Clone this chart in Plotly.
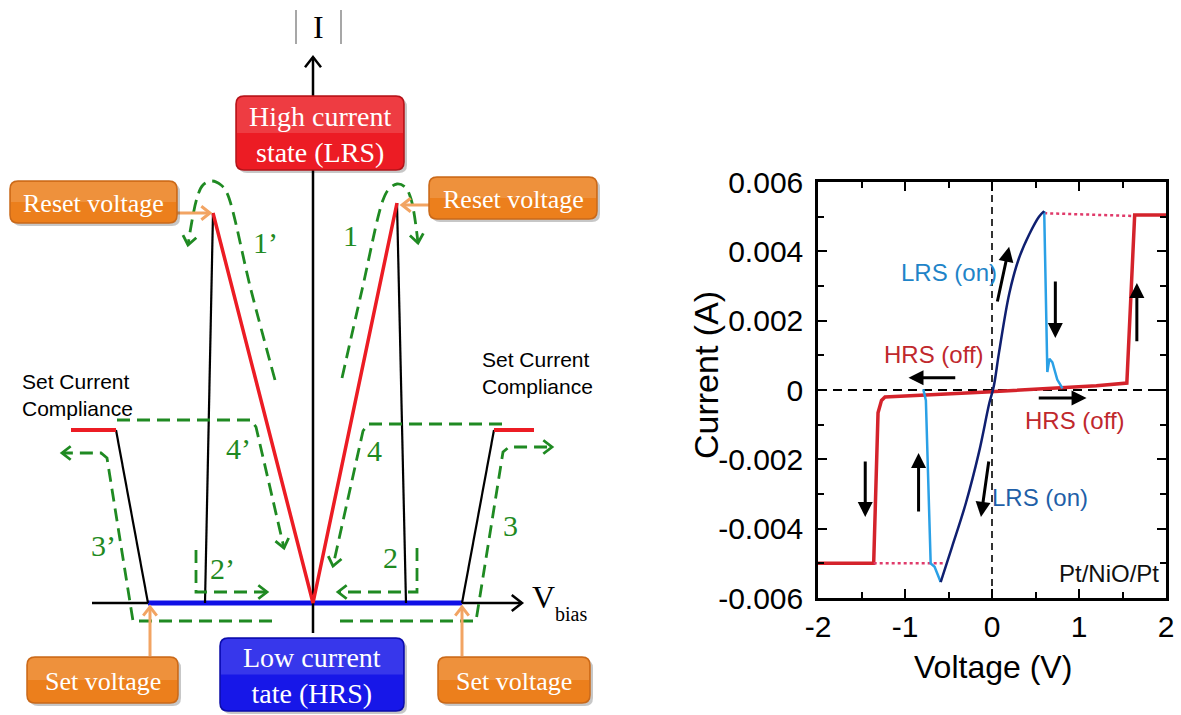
import math
import plotly.graph_objects as go

W, H = 1181, 715

# ================= Right panel: measured I-V data (Pt/NiO/Pt) =================
hrs_pos_v = [-0.02, 0.3, 0.8, 1.2, 1.55, 1.64, 2.0]
hrs_pos_i = [-0.00005, 0.0, 0.00006, 0.00012, 0.0002, 0.00505, 0.00505]
hrs_neg_v = [0.0, -0.5, -1.0, -1.23, -1.27, -1.31, -1.36, -2.0]
hrs_neg_i = [-0.00005, -0.00012, -0.00017, -0.0002, -0.0003, -0.00066, -0.005, -0.005]
comp_top_v = [0.60, 1.62]
comp_top_i = [0.0051, 0.00502]
comp_bot_v = [-1.36, -0.56]
comp_bot_i = [-0.005, -0.005]
reset_pos_v = [0.60, 0.62, 0.636, 0.66, 0.694, 0.75, 0.81]
reset_pos_i = [0.00516, 0.0030, 0.00052, 0.0009, 0.0008, 0.0003, 0.00005]
reset_neg_v = [-0.79, -0.76, -0.705, -0.66, -0.59]
reset_neg_i = [0.00002, -0.0003, -0.0050, -0.0051, -0.00554]
lrs_v = [-0.59, -0.46, -0.30, -0.15, -0.03, 0.02, 0.08, 0.2, 0.31, 0.43, 0.54, 0.60]
lrs_i = [-0.00554, -0.00453, -0.00326, -0.0018, -0.00037, 0.0001, 0.00107, 0.0028,
         0.0038, 0.0045, 0.0050, 0.00516]

y_tickvals = [-0.006, -0.004, -0.002, 0, 0.002, 0.004, 0.006]
y_ticktext = ["-0.006", "-0.004", "-0.002", "0", "0.002", "0.004", "0.006"]
x_tickvals = [-2, -1, 0, 1, 2]
x_ticktext = ["-2", "-1", "0", "1", "2"]

# direction arrows (start V, start I, end V, end I)
arrow_v0 = [1.665, 0.728, 0.058, -0.405, 0.52, -1.457, -0.844, -0.035]
arrow_i0 = [0.00136, 0.00317, 0.00251, 0.00035, -0.00023, -0.00202, -0.00355, -0.00202]
arrow_v1 = [1.665, 0.728, 0.197, -0.96, 1.087, -1.457, -0.844, -0.127]
arrow_i1 = [0.00309, 0.0015, 0.00413, 0.00035, -0.00023, -0.00366, -0.00182, -0.00366]

label_text = ["LRS (on)", "HRS (off)", "HRS (off)", "LRS (on)", "Pt/NiO/Pt"]
label_v = [-0.50, -0.67, 0.95, 0.555, 1.34]
label_i = [0.0034, 0.00101, -0.00087, -0.00309, -0.00528]
label_color = ["#1f84c8", "#c0282d", "#c0282d", "#1f5fa8", "#111111"]

# ================= Left panel: schematic (drawing units, y downward) =================
origin = (313, 603)
lrs_peak_left = (213, 213)
lrs_peak_right = (397, 203)
reset_foot_left = (205, 603)
reset_foot_right = (406, 603)
cc_left = [(71, 430), (116, 430)]
cc_right = [(494, 430), (534, 430)]
set_foot_left = (148, 603)
set_foot_right = (462, 603)
x_axis = [(92, 603), (522, 603)]
y_axis = [(313, 633), (313, 57)]

green_paths = {
    "1": [(342, 378), (362, 290), (383, 200), (389, 189), (397, 184), (405, 187), (411, 199), (418, 243)],
    "1p": [(275, 380), (251, 290), (227, 193), (221, 185), (212, 181), (203, 185), (197, 198), (188, 245)],
    "4": [(502, 424), (368, 424), (363, 431), (333, 566)],
    "4p": [(117, 420), (251, 420), (256, 427), (284, 548)],
    "3": [(340, 621), (476, 621), (503, 452), (509, 447), (552, 447)],
    "3p": [(272, 621), (133, 621), (107, 458), (101, 453), (62, 453)],
    "2": [(417, 548), (417, 592), (338, 592)],
    "2p": [(196, 550), (196, 592), (267, 592)],
}
green_labels = ["1", "1\u2019", "4", "4\u2019", "3", "3\u2019", "2", "2\u2019"]
green_label_x = [350, 265, 374, 238, 510, 103, 390, 222]
green_label_y = [235, 242, 450, 448, 525, 545, 557, 568]

orange_arrows = [((177, 213), (210, 213)), ((429, 205), (402, 205)),
                 ((150, 656), (150, 607)), ((462, 656), (462, 607))]

boxes = [  # x0, y0, x1, y1, fill, border
    (236, 96, 404, 170, "#ec1c24", "#b3141a"),
    (10, 181, 177, 223, "#ec7f1c", "#c9691a"),
    (429, 177, 597, 219, "#ec7f1c", "#c9691a"),
    (220, 638, 404, 711, "#1717e8", "#0c0ca8"),
    (27, 657, 178, 703, "#ec7f1c", "#c9691a"),
    (438, 657, 590, 703, "#ec7f1c", "#c9691a"),
]
box_text = ["High current<br>state (LRS)", "Reset voltage", "Reset voltage",
            "Low current<br>tate (HRS)", "Set voltage", "Set voltage"]
box_text_size = [28, 26, 26, 28, 26, 26]

cc_text = ["Set Current<br>Compliance", "Set Current<br>Compliance"]
cc_text_x = [20, 480]
cc_text_y = [395, 373]

GREEN = "#1f8a22"
SERIF = "Liberation Serif, Times New Roman, serif"
SANS = "Liberation Sans, Arial, sans-serif"

fig = go.Figure()


def sch_line(pts, color, width, dash="solid", shape="linear"):
    fig.add_trace(go.Scatter(
        x=[p[0] for p in pts], y=[p[1] for p in pts], mode="lines",
        line=dict(color=color, width=width, dash=dash, shape=shape),
        xaxis="x2", yaxis="y2", hoverinfo="skip", showlegend=False))


def chevron(tip, prev, size, color, width):
    dx, dy = tip[0] - prev[0], tip[1] - prev[1]
    n = math.hypot(dx, dy)
    ux, uy = dx / n, dy / n
    ang = math.radians(38)
    pts = []
    for s in (1, -1):
        c, si = math.cos(s * ang), math.sin(s * ang)
        rx, ry = ux * c - uy * si, ux * si + uy * c
        pts.append((tip[0] - size * rx, tip[1] - size * ry))
    sch_line([pts[0], tip, pts[1]], color, width)


def rrect(x0, y0, x1, y1, r):
    return (f"M {x0+r},{y0} L {x1-r},{y0} Q {x1},{y0} {x1},{y0+r} L {x1},{y1-r} "
            f"Q {x1},{y1} {x1-r},{y1} L {x0+r},{y1} Q {x0},{y1} {x0},{y1-r} "
            f"L {x0},{y0+r} Q {x0},{y0} {x0+r},{y0} Z")


def rtop(x0, y0, x1, y1, r):
    return (f"M {x0},{y1} L {x0},{y0+r} Q {x0},{y0} {x0+r},{y0} L {x1-r},{y0} "
            f"Q {x1},{y0} {x1},{y0+r} L {x1},{y1} Z")


# --- schematic lines ---
sch_line(x_axis, "black", 2.5)
chevron(x_axis[1], x_axis[0], 13, "black", 2.5)
sch_line([set_foot_left, set_foot_right], "#1010e6", 5)
sch_line([reset_foot_left, lrs_peak_left], "black", 2.2)
sch_line([reset_foot_right, lrs_peak_right], "black", 2.2)
sch_line([cc_left[1], set_foot_left], "black", 2.2)
sch_line([cc_right[0], set_foot_right], "black", 2.2)
sch_line(cc_left, "#ec1c24", 4)
sch_line(cc_right, "#ec1c24", 4)
sch_line(y_axis, "black", 2.5)
chevron(y_axis[1], y_axis[0], 13, "black", 2.5)
sch_line([lrs_peak_left, origin, lrs_peak_right], "#ec1c24", 3.5)

for key, pts in green_paths.items():
    shape = "spline" if key in ("1", "1p") else "linear"
    sch_line(pts, GREEN, 2.8, dash="13px,7px", shape=shape)
    chevron(pts[-1], pts[-2], 11, GREEN, 2.8)

for start, end in orange_arrows:
    sch_line([start, end], "#f2a463", 3)
    chevron(end, start, 11, "#f2a463", 3)

shapes = []
for (x0, y0, x1, y1, fill, border) in boxes:
    shapes.append(dict(type="path", path=rrect(x0 + 3, y0 + 3, x1 + 3, y1 + 3, 8),
                       xref="x2", yref="y2", fillcolor="rgba(0,0,0,0.22)",
                       line=dict(width=0), layer="above"))
    shapes.append(dict(type="path", path=rrect(x0, y0, x1, y1, 8), xref="x2", yref="y2",
                       fillcolor=fill, line=dict(color=border, width=1.5), layer="above"))
    # soft highlight on the upper half (glossy look)
    shapes.append(dict(type="path", path=rtop(x0 + 1, y0 + 1, x1 - 1, (y0 + y1) / 2, 7),
                       xref="x2", yref="y2", fillcolor="rgba(255,255,255,0.14)",
                       line=dict(width=0), layer="above"))
# |I| bars
shapes.append(dict(type="line", xref="x2", yref="y2", x0=296, x1=296, y0=10, y1=44,
                   line=dict(color="#8a8a8a", width=1.5)))
shapes.append(dict(type="line", xref="x2", yref="y2", x0=341, x1=341, y0=10, y1=44,
                   line=dict(color="#8a8a8a", width=1.5)))

annotations = []
for (x0, y0, x1, y1, _, _), t, s in zip(boxes, box_text, box_text_size):
    annotations.append(dict(x=(x0 + x1) / 2, y=(y0 + y1) / 2 + 1, xref="x2", yref="y2",
                            text=t, showarrow=False, xanchor="center", yanchor="middle",
                            font=dict(family=SERIF, size=s, color="white"),
                            align="center"))
for t, x, y in zip(green_labels, green_label_x, green_label_y):
    annotations.append(dict(x=x, y=y, xref="x2", yref="y2", text=t, showarrow=False,
                            xanchor="center", yanchor="middle",
                            font=dict(family=SERIF, size=30, color=GREEN)))
for t, x, y in zip(cc_text, cc_text_x, cc_text_y):
    annotations.append(dict(x=x, y=y, xref="x2", yref="y2", text=t, showarrow=False,
                            xanchor="left", yanchor="middle", align="left",
                            font=dict(family=SANS, size=21, color="black")))
annotations.append(dict(x=318, y=27, xref="x2", yref="y2", text="I", showarrow=False,
                        xanchor="center", yanchor="middle",
                        font=dict(family=SERIF, size=32, color="black")))
annotations.append(dict(x=543, y=597, xref="x2", yref="y2", text="V", showarrow=False,
                        xanchor="center", yanchor="middle",
                        font=dict(family=SERIF, size=32, color="black")))
annotations.append(dict(x=571, y=614, xref="x2", yref="y2", text="bias", showarrow=False,
                        xanchor="center", yanchor="middle",
                        font=dict(family=SERIF, size=20, color="black")))

# ================= Right panel traces =================
def iv(x, y, color, width, dash="solid", shape="linear"):
    fig.add_trace(go.Scatter(x=x, y=y, mode="lines",
                             line=dict(color=color, width=width, dash=dash, shape=shape),
                             xaxis="x", yaxis="y", hoverinfo="skip", showlegend=False))


iv(hrs_pos_v, hrs_pos_i, "#d4232b", 3.5)
iv(hrs_neg_v, hrs_neg_i, "#d4232b", 3.5)
iv(comp_top_v, comp_top_i, "#e03a6a", 2.5, dash="dot")
iv(comp_bot_v, comp_bot_i, "#e03a6a", 2.5, dash="dot")
iv(reset_pos_v, reset_pos_i, "#2aa0e6", 2.5)
iv(reset_neg_v, reset_neg_i, "#2aa0e6", 2.5)
iv(lrs_v, lrs_i, "#0f1f70", 2.5, shape="spline")

shapes.append(dict(type="line", xref="x", yref="y", x0=0, x1=0, y0=-0.006, y1=0.006,
                   line=dict(color="black", width=1.6, dash="7px,5px"), layer="below"))
shapes.append(dict(type="line", xref="x", yref="y", x0=-2, x1=2, y0=0, y1=0,
                   line=dict(color="black", width=2, dash="9px,6px"), layer="below"))

for a, b, c, d in zip(arrow_v0, arrow_i0, arrow_v1, arrow_i1):
    annotations.append(dict(x=c, y=d, ax=a, ay=b, xref="x", yref="y", axref="x", ayref="y",
                            showarrow=True, arrowhead=2, arrowsize=1, arrowwidth=3,
                            arrowcolor="black", text=""))
for t, x, y, c in zip(label_text, label_v, label_i, label_color):
    annotations.append(dict(x=x, y=y, xref="x", yref="y", text=t, showarrow=False,
                            xanchor="center", yanchor="middle",
                            font=dict(family=SANS, size=24, color=c)))

annotations.append(dict(x=993 / W, y=1 - 667 / H, xref="paper", yref="paper",
                        text="Voltage (V)", showarrow=False, xanchor="center", yanchor="middle",
                        font=dict(family=SANS, size=32, color="black")))
annotations.append(dict(x=706 / W, y=1 - 375 / H, xref="paper", yref="paper",
                        text="Current (A)", showarrow=False, textangle=-90,
                        xanchor="center", yanchor="middle",
                        font=dict(family=SANS, size=34, color="black")))

fig.update_layout(
    template="none",
    width=W, height=H, margin=dict(l=0, r=0, t=0, b=0, pad=0, autoexpand=False),
    paper_bgcolor="white", plot_bgcolor="white",
    shapes=shapes, annotations=annotations,
    xaxis=dict(domain=[818 / W, 1166 / W], range=[-2, 2], anchor="y", automargin=False,
               tickvals=x_tickvals, ticktext=x_ticktext, ticks="inside", ticklen=9,
               tickwidth=2, tickcolor="black", showline=True, linecolor="black",
               linewidth=2.5, mirror="allticks", showgrid=False, zeroline=False,
               tickfont=dict(family=SANS, size=30, color="black"),
               minor=dict(tickmode="linear", tick0=0, dtick=0.5, ticks="inside",
                          ticklen=6, tickwidth=2, tickcolor="black", showgrid=False)),
    yaxis=dict(domain=[117 / H, 533 / H], range=[-0.006, 0.006], anchor="x", automargin=False,
               tickvals=y_tickvals, ticktext=y_ticktext, ticks="inside", ticklen=9,
               tickwidth=2, tickcolor="black", showline=True, linecolor="black",
               linewidth=2.5, mirror="allticks", showgrid=False, zeroline=False,
               ticklabelstandoff=6,
               tickfont=dict(family=SANS, size=30, color="black"),
               minor=dict(tickmode="linear", tick0=0, dtick=0.001, ticks="inside",
                          ticklen=6, tickwidth=2, tickcolor="black", showgrid=False)),
    xaxis2=dict(domain=[0, 600 / W], range=[0, 600], anchor="y2", visible=False,
                fixedrange=True, automargin=False),
    yaxis2=dict(domain=[0, 1], range=[715, 0], anchor="x2", visible=False,
                fixedrange=True, automargin=False),
)

fig.write_html(
    "out.html",
    config={"displayModeBar": False},
    post_script="document.body.style.margin='0';document.body.style.overflow='hidden';",
)
